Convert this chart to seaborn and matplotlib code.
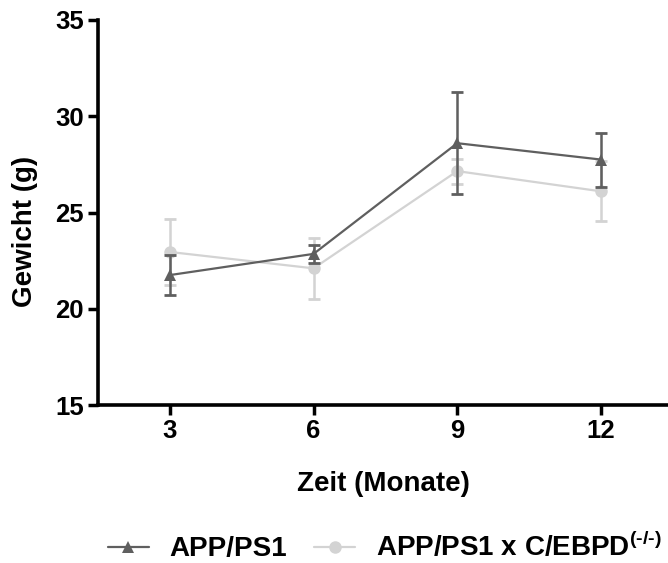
import numpy as np
import pandas as pd
import matplotlib
matplotlib.use("Agg")
import matplotlib.pyplot as plt
import seaborn as sns
from matplotlib.lines import Line2D

months = [3, 6, 9, 12]
app_mean = [21.75, 22.85, 28.6, 27.75]
app_err = [1.05, 0.45, 2.65, 1.4]
ko_mean = [22.95, 22.1, 27.15, 26.1]
ko_err = [1.7, 1.6, 0.65, 1.55]
labels = ["APP/PS1", "APP/PS1 x C/EBPD$^{\\mathbf{(\u2010/\u2010)}}$"]
colors = ["#5f5f5f", "#d3d3d3"]

sns.set_style("ticks")
plt.rcParams['font.family'] = ['Liberation Sans', 'DejaVu Sans']
plt.rcParams['mathtext.fontset'] = 'custom'
plt.rcParams['mathtext.bf'] = 'Liberation Sans:bold'
plt.rcParams['mathtext.rm'] = 'Liberation Sans:bold'
plt.rcParams['text.color'] = 'black'
plt.rcParams['axes.labelcolor'] = 'black'

df = pd.DataFrame({
    "Zeit": months * 2,
    "Gewicht": app_mean + ko_mean,
    "err": app_err + ko_err,
    "Gruppe": [labels[0]] * 4 + [labels[1]] * 4,
})

fig = plt.figure(figsize=(6.68, 5.63), dpi=100)
ax = fig.add_axes([0.1467, 0.2806, 0.8533, 0.6839])

markers = {labels[0]: "^", labels[1]: "o"}
for i in [1, 0]:
    lab = labels[i]
    sub = df[df["Gruppe"] == lab]
    ax.errorbar(sub["Zeit"], sub["Gewicht"], yerr=sub["err"], fmt="none",
                ecolor=colors[i], elinewidth=1.8, capsize=4.2, capthick=2.0,
                zorder=2 + (1 - i) * 2)
    sns.lineplot(data=sub, x="Zeit", y="Gewicht", ax=ax, color=colors[i],
                 marker=markers[lab], markersize=9, markeredgewidth=0,
                 linewidth=1.6, zorder=3 + (1 - i) * 2, legend=False)

FS = 18.5
LFS = 20
ax.set_xlim(1.5, 13.4)
ax.set_ylim(15, 35)
ax.set_xticks(months)
ax.set_yticks([15, 20, 25, 30, 35])
ax.set_xlabel("Zeit (Monate)", fontsize=LFS, fontweight="bold", labelpad=20, color="black")
ax.set_ylabel("Gewicht (g)", fontsize=LFS, fontweight="bold", color="black")
ax.yaxis.set_label_coords(-0.105, 0.452)
for lbl in ax.get_xticklabels() + ax.get_yticklabels():
    lbl.set_fontweight("bold")
    lbl.set_fontsize(FS)
ax.tick_params(width=2.5, length=7, direction="out", colors="black", pad=3)
for s in ["left", "bottom"]:
    ax.spines[s].set_linewidth(2.6)
    ax.spines[s].set_color("black")
sns.despine(ax=ax)

handles = [
    Line2D([], [], color=colors[0], marker="^", markersize=9, markeredgewidth=0, linewidth=1.6),
    Line2D([], [], color=colors[1], marker="o", markersize=9, markeredgewidth=0, linewidth=1.6),
]
leg = fig.legend(handles, labels, loc="center", bbox_to_anchor=(0.576, 0.028),
                 ncol=2, frameon=False, fontsize=20, handlelength=1.48,
                 columnspacing=0.97, handletextpad=0.75)
for t in leg.get_texts():
    t.set_fontweight("bold")
    t.set_color("black")

fig.savefig("out.png", dpi=100)
